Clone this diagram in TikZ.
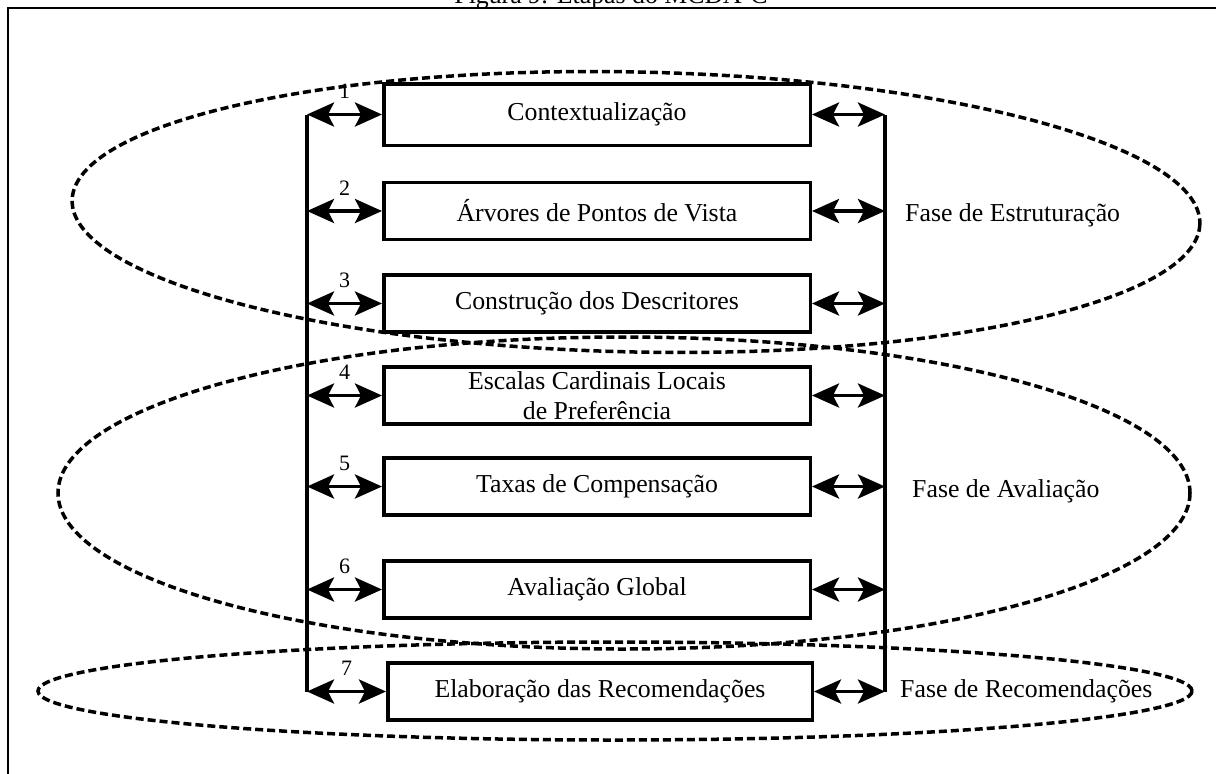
\documentclass[tikz,border=0pt]{standalone}
\usepackage{fontspec}
\setmainfont{Liberation Serif}
\usetikzlibrary{arrows.meta,positioning,calc}

\begin{document}
\begin{tikzpicture}[x=1pt, y=-1pt,
    etapa/.style={draw, line width=3.5pt, minimum width=426.5pt,
      minimum height=57pt, inner sep=0, align=center,
      font=\fontsize{25.8}{30}\selectfont},
    ligacao/.style={line width=3.5pt,
      {Stealth[length=27pt,width=24pt,inset=6pt]}-{Stealth[length=27pt,width=24pt,inset=6pt]}},
    numero/.style={above=14pt, inner sep=0, font=\fontsize{22}{24}\selectfont},
    fase/.style={dash pattern=on 8pt off 4pt, line width=3.5pt},
    rotulo/.style={anchor=west, inner sep=0, font=\fontsize{25.8}{30}\selectfont}]
  \useasboundingbox (0,0) rectangle (1216,774);
  % moldura e titulo
  \node[anchor=base, inner sep=0, font=\fontsize{25.8}{30}\selectfont]
    (titulo) at (611,3) {Figura 9: Etapas do MCDA-C};
  \draw[line width=2.5pt] (8,774) -- (8,8) -- (1216,8);

  % fases
  \draw[fase, rotate around={-1.2:(636,212)}] (636,212) ellipse [x radius=564, y radius=140];
  \draw[fase] (624,493) ellipse [x radius=566, y radius=156];
  \draw[fase] (615,691) ellipse [x radius=577, y radius=49];

  % etapas
  \node[etapa, minimum height=61.5pt] (b1) at (597,114.5) {Contextualização};
  \node[etapa] (b2) at (597,211) {Árvores de Pontos de Vista};
  \node[etapa] (b3) at (597,303.5) {Construção dos Descritores};
  \node[etapa] (b4) at (597,395.5) {Escalas Cardinais Locais\\de Preferência};
  \node[etapa] (b5) at (597,486.5) {Taxas de Compensação};
  \node[etapa] (b6) at (597,589.5) {Avaliação Global};
  \node[etapa, minimum width=424.5pt] (b7) at (600,691.5) {Elaboração das Recomendações};

  \coordinate (esq) at (307,0);
  \coordinate (dir) at (885,0);
  \draw[line width=3.5pt] (b1.west -| esq) -- (b7.west -| esq);
  \draw[line width=3.5pt] (b1.east -| dir) -- (b7.east -| dir);
  \foreach \i in {1,...,7} {
    \draw[ligacao] (b\i.west -| esq) -- node[numero] {\i} (b\i.west);
    \draw[ligacao] (b\i.east) -- (b\i.east -| dir);
  }

  \node[rotulo] (f1) at (905,215) {Fase de Estruturação};
  \node[rotulo] (f2) at (912,491) {Fase de Avaliação};
  \node[rotulo] (f3) at (900,691) {Fase de Recomendações};
\end{tikzpicture}
\end{document}
